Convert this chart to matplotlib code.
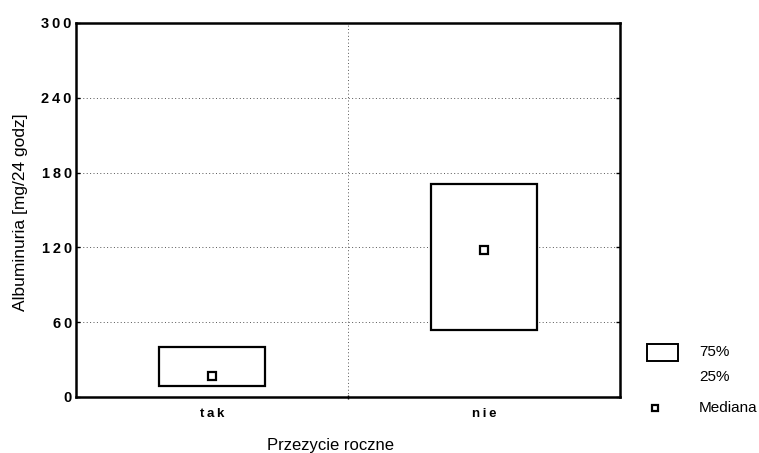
import numpy as np
import matplotlib.pyplot as plt
from matplotlib.patches import Rectangle
from matplotlib.lines import Line2D

plt.rcParams['font.family'] = ['Liberation Sans', 'DejaVu Sans']

# group labels and quartiles
groups = ['tak', 'nie']
q25 = [8.5, 53.5]
q75 = [40, 170.5]
median = [16.5, 118]
y_ticks = [0, 60, 120, 180, 240, 300]

W, H = 759, 453
fig = plt.figure(figsize=(W / 100, H / 100), dpi=100)
ax = fig.add_axes([76 / W, 1 - 397 / H, (620 - 76) / W, (397 - 23) / H])

x = np.arange(len(groups))
lo = np.array(q25)
hi = np.array(q75)

# interquartile boxes
ax.bar(x, hi - lo, bottom=lo, width=0.39, color='white',
       edgecolor='black', linewidth=1.6, zorder=3)
# median markers
ax.plot(x, median, 's', ms=5.5, mfc='white', mec='black', mew=1.6,
        linestyle='none', zorder=4)

ax.set_xlim(-0.5, 1.5)
ax.set_ylim(0, 300)

def spaced(s):
    return '\u2009'.join(str(s))

ax.set_yticks(y_ticks)
ax.set_yticklabels([spaced(v) for v in y_ticks], fontsize=10.5, fontweight='bold')
ax.set_xticks(x)
ax.set_xticklabels([spaced(g) for g in groups], fontsize=9.5, fontweight='bold')
ax.set_xticks([0.5], minor=True)

ax.tick_params(axis='x', which='major', length=0, pad=8)
ax.tick_params(axis='x', which='minor', length=3, direction='inout', width=1)
ax.tick_params(axis='y', which='major', length=3, direction='in', width=1,
               pad=3, right=True)

ax.grid(True, axis='y', which='major', linestyle=(0, (1, 2.5)),
        color='#555555', linewidth=0.7)
ax.grid(True, axis='x', which='minor', linestyle=(0, (1, 2.5)),
        color='#555555', linewidth=0.7)
ax.set_axisbelow(True)

for side in ['left', 'bottom', 'top', 'right']:
    ax.spines[side].set_linewidth(1.8)

ax.set_ylabel('Albuminuria [mg/24 godz]', fontsize=12.5)
ax.yaxis.set_label_coords(-0.088, 0.495)
ax.set_xlabel('Przezycie roczne', fontsize=12)
ax.xaxis.set_label_coords(0.467, -0.11)

# legend drawn beside the plot
fig.patches.append(Rectangle((647 / W, 1 - 361 / H), 31 / W, 17 / H,
                             transform=fig.transFigure, facecolor='white',
                             edgecolor='black', linewidth=1.4))
fig.text(699 / W, 1 - 352 / H, '75%', fontsize=11, va='center')
fig.text(699 / W, 1 - 377 / H, '25%', fontsize=11, va='center')
fig.lines.append(Line2D([655 / W], [1 - 408 / H], transform=fig.transFigure,
                        marker='s', ms=5, mfc='white', mec='black', mew=1.6,
                        linestyle='none'))
fig.text(699 / W, 1 - 408 / H, 'Mediana', fontsize=11, va='center')

fig.savefig('out.png', dpi=100)
